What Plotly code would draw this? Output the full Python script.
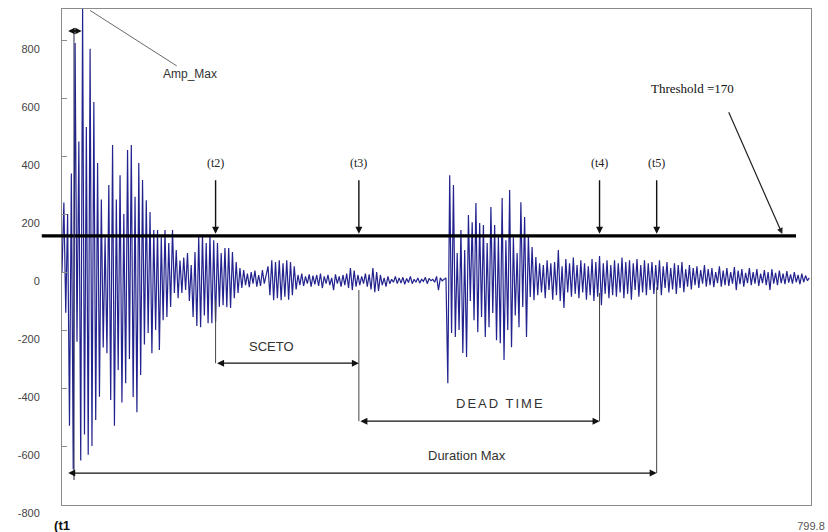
import plotly.graph_objects as go

# ---------------- data ----------------
SAMPLE_US = 2.0  # time between samples (µs)

burst1 = [0, 240, -140, 200, -530, 340, -680, 790, -240, 450,
          -650, 910, -560, 500, -630, 770, -600, 586, -510, 376,
          -430, 250, -260, 120, -280, 300, -441, 438, -530, 250,
          -338, 334, -450, 200, -383, 421, -300, 438, -431, 260,
          -483, 376, -355, 317, -250, 248, -210, 207, -280, 145,
          -200, 145, -269, 120, -166, 145, -155, 100, -120, 145,
          -72, 76, -90, 40, -72, 50, -62]

decay1 = [66, -100, 24, -155, 69, -186, 121, -190, 128, -150,
          100, -176, 128, -176, 110, -172, 100, -120, 66, -114,
          83, -121, 83, -124, 69, -90, 35, -72, 14, -55]

quiet1 = [7, -45, -5, -52, 0, -40, 5, -50, -10, -48, 7, -40, -5,
          20, -80, 41, -97, 35, -90, 41, -97, 30, -85, 41, -95, 35, -80, 20, -60]

quiet2 = [-10, -45, -5, -48, -15, -40, -8, -50, -12, -42, -10, -48,
          -5, -55, -15, -40, -10, -45, -20, -62, -8, -40, -15, -50, -10,
          -45, -5, -55, 14, -62, 5, -50, -10, -45, -15, -40, -5, -50,
          -8, -60, 14, -69, 0, -65, -10, -45, -20, -50, -15, -40, -25,
          -35, -15, -40, -20, -38, -18, -42, -22, -36, -15, -40, -25, -35,
          -20, -38, -25, -32, -18, -40, -22, -30, -25, -35, -15, -62, -20, -30, -25]

burst2 = [-20, -383, 334, -210, 300, -224, 66, -200, 145, -279,
          76, -293, 197, -100, 172, -166, 238, -207, 169, -155,
          162, -224, 100, -190, 224, -141, 162, -235, 121, -245,
          255, -303, 110, -200, 283, -259, 120, -150, 66, -190,
          241, -120, 190, -224, 128, -86, 86, -97, 52, -80]

tail = [30, -70, 24, -90, 41, -62, 30, -95, 35, -80, 76, -100, 20, -124, 45, -70, 30, -85, 50, -75,
        24, -90, 41, -70, 30, -95, 20, -80, 45, -100, 35, -85, 55, -114, 30, -75, 41, -90, 24, -80,
        41, -85, 30, -70, 50, -90, 35, -75, 41, -95, 30, -62, 45, -85, 24, -70, 41, -80, 30, -62,
        35, -75, 24, -62, 41, -80, 20, -55, 35, -70, 14, -60, 30, -75, 24, -55, 35, -69, 10, -50,
        24, -60, 14, -45, 20, -55, 7, -40, 24, -50, 10, -45, 14, -52, 0, -38, 20, -50, 5, -45,
        14, -48, 0, -40, 17, -62, 5, -42, 10, -50, -3, -38, 14, -45, 0, -40, 10, -48, -5, -38,
        7, -45, 0, -62, 10, -40, -3, -45, 5, -38, -5, -42, 3, -36, -8, -40, 0, -35, -10, -42,
        -5, -35, -12, -30, -20]

amplitude = burst1 + decay1 + quiet1 + quiet2 + burst2 + tail
time_us = [i * SAMPLE_US for i in range(len(amplitude))]

threshold_level = 125
threshold_label = "Threshold =170"
event_names = ["(t2)", "(t3)", "(t4)", "(t5)"]
event_times = [164, 317, 574, 635]
event_line_tops = [-97, -62, -72, -52]
rise_marker = [5, 21, 831]          # start, end, level
t1_marker_x = 12.8
amp_max_point = [30, 902]

intervals = [  # label, start, end, level, label x, label y
    ("SCETO", 164, 317, -314, 224, -255),
    ("DEAD TIME", 317, 574, -514, 468, -452),
    ("Duration Max", 5, 635, -693, 432, -631),
]

y_ticks = [800, 600, 400, 200, 0, -200, -400, -600, -800]
y_tick_text = ["800", "600", "400", "200", "0", "-200", "-400", "-600", "-800"]
x_ticks = [0, 799.8]
x_tick_text = ['<span style="font-size:13px;color:#111"><b>(t1</b></span>', "799.8"]

Y_RANGE = [-803, 907]
X_RANGE = [0, 799.8]

# ---------------- figure ----------------
fig = go.Figure()
fig.add_trace(go.Scatter(x=time_us, y=amplitude, mode="lines",
                         line=dict(color="#23238f", width=1.2),
                         hoverinfo="skip", showlegend=False))

shapes = []
# threshold bar (extends left past the axis)
shapes.append(dict(type="line", xref="paper", yref="y", x0=-0.027, x1=0.98,
                   y0=threshold_level, y1=threshold_level,
                   line=dict(color="#000000", width=3.2)))
# t1 marker line
shapes.append(dict(type="line", xref="x", yref="y", x0=t1_marker_x, x1=t1_marker_x,
                   y0=-717, y1=841, line=dict(color="#2a2a55", width=1)))
# vertical drop lines from events to interval arrows
bottoms = [intervals[0][3], intervals[1][3], intervals[1][3], intervals[2][3]]
for t, top, bot in zip(event_times, event_line_tops, bottoms):
    shapes.append(dict(type="line", xref="x", yref="y", x0=t, x1=t, y0=top, y1=bot,
                       line=dict(color="#444444", width=1)))

annotations = []
serif = dict(family="Liberation Serif, Times New Roman, serif", size=12, color="#222222")
sans = dict(family="Liberation Sans, Arial, sans-serif", size=13, color="#333333")

for name, t in zip(event_names, event_times):
    annotations.append(dict(x=t, y=threshold_level, xref="x", yref="y", text=name,
                            showarrow=True, ax=0, ay=-73, arrowhead=2, arrowsize=1,
                            arrowwidth=1.4, arrowcolor="#111111", startstandoff=9,
                            standoff=2, font=serif))

# threshold label + arrow
annotations.append(dict(x=770, y=threshold_level, xref="x", yref="y", text="",
                        showarrow=True, ax=-55, ay=-125, arrowhead=2, arrowsize=1,
                        arrowwidth=1.2, arrowcolor="#222222", standoff=2))
annotations.append(dict(x=673, y=634, xref="x", yref="y", text=threshold_label,
                        showarrow=False, font=dict(family="Liberation Serif, Times New Roman, serif",
                                                   size=13, color="#111111")))

# Amp_Max
annotations.append(dict(x=amp_max_point[0], y=amp_max_point[1], xref="x", yref="y",
                        text="Amp_Max", showarrow=True, ax=100, ay=64, arrowhead=0,
                        arrowwidth=1, arrowcolor="#6a6a6a",
                        font=dict(family="Liberation Sans, Arial, sans-serif", size=12,
                                  color="#333333")))

# rise-time marker
annotations.append(dict(x=rise_marker[1], y=rise_marker[2], xref="x", yref="y",
                        ax=rise_marker[0], ay=rise_marker[2], axref="x", ayref="y",
                        text="", showarrow=True, arrowside="end+start", arrowhead=2,
                        startarrowhead=2, arrowsize=0.8, startarrowsize=0.8,
                        arrowwidth=1.6, arrowcolor="#111111"))

# interval double arrows and their labels
for label, x0, x1, lvl, lx, ly in intervals:
    annotations.append(dict(x=x1, y=lvl, xref="x", yref="y", ax=x0, ay=lvl,
                            axref="x", ayref="y", text="", showarrow=True,
                            arrowside="end+start", arrowhead=2, startarrowhead=2,
                            arrowsize=1, startarrowsize=1, arrowwidth=1.4,
                            arrowcolor="#111111"))
    txt = label
    if label == "DEAD TIME":
        txt = '<span style="letter-spacing:2px">DEAD TIME</span>'
    annotations.append(dict(x=lx, y=ly, xref="x", yref="y", text=txt,
                            showarrow=False, font=sans))

fig.update_layout(
    width=828, height=532,
    margin=dict(l=62, r=17, t=9, b=27, autoexpand=False),
    paper_bgcolor="white", plot_bgcolor="white",
    shapes=shapes, annotations=annotations,
    showlegend=False,
    xaxis=dict(range=X_RANGE, showgrid=False, zeroline=False, showline=True,
               mirror=True, linecolor="#8a8a8a", linewidth=1, automargin=False,
               tickmode="array", tickvals=x_ticks, ticktext=x_tick_text,
               ticks="", ticklabelstandoff=11,
               tickfont=dict(family="Liberation Sans, Arial, sans-serif", size=11,
                             color="#555555")),
    yaxis=dict(range=Y_RANGE, showgrid=False, zeroline=False, showline=True,
               mirror=True, linecolor="#8a8a8a", linewidth=1, automargin=False,
               tickmode="array", tickvals=y_ticks, ticktext=y_tick_text,
               ticks="inside", ticklen=5, tickcolor="#8a8a8a",
               ticklabelstandoff=19, ticklabelshift=9,
               tickfont=dict(family="Liberation Sans Narrow, Liberation Sans, Arial, sans-serif",
                             size=11, color="#444444")),
)

fig.write_html("out.html", config={"displayModeBar": False},
               post_script="document.body.style.margin='0';document.body.style.overflow='hidden';")
